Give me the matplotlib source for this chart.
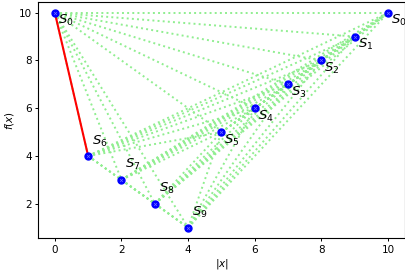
import itertools
import matplotlib
matplotlib.use('Agg')
import matplotlib.pyplot as plt

# points S0..S9 and the second S0
xs = [0, 1, 2, 3, 4, 5, 6, 7, 8, 9, 10]
ys = [10, 4, 3, 2, 1, 5, 6, 7, 8, 9, 10]
names = ['S_0', 'S_6', 'S_7', 'S_8', 'S_9', 'S_5', 'S_4', 'S_3', 'S_2', 'S_1', 'S_0']
# red segment between these two point indices
red_pair = (0, 1)

fig, ax = plt.subplots(figsize=(4.06, 2.74), dpi=100)
fig.subplots_adjust(left=0.094, right=0.997, top=0.993, bottom=0.13)

for i, j in itertools.combinations(range(len(xs)), 2):
    ax.plot([xs[i], xs[j]], [ys[i], ys[j]], ':', color='lightgreen',
            lw=1.4, zorder=1)

a, b = red_pair
ax.plot([xs[a], xs[b]], [ys[a], ys[b]], '-', color='red', lw=1.5, zorder=2)

ax.plot(xs, ys, 'o', color='blue', ms=5, zorder=3)
ax.plot(xs, ys, 'x', color='#6f6fff', ms=2, mew=0.5, zorder=4)

for x, y, n in zip(xs, ys, names):
    up = n in ('S_6', 'S_7', 'S_8', 'S_9')
    off = (4, 15) if up else (3, -8)
    ax.annotate(f'${n}$', (x, y), xytext=off, textcoords='offset pixels',
                ha='left', va='center', fontsize=9.5)

ax.set_xlabel('$|x|$', fontsize=7.5, labelpad=2)
ax.set_ylabel('$f(x)$', fontsize=7.5, labelpad=2)
ax.tick_params(labelsize=7.5, length=2.5, width=0.7, pad=2)
ax.set_xticks([0, 2, 4, 6, 8, 10])
ax.set_yticks([2, 4, 6, 8, 10])
for s in ax.spines.values():
    s.set_linewidth(0.8)

plt.savefig('out.png', dpi=100)
